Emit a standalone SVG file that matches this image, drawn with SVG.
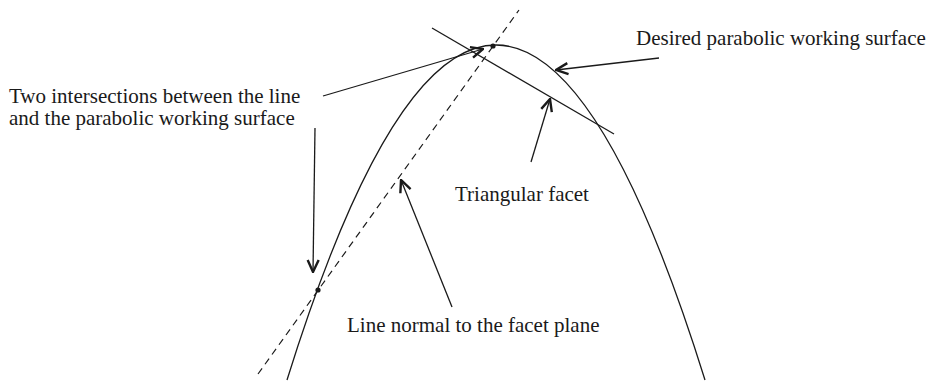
<svg xmlns="http://www.w3.org/2000/svg" width="932" height="381" viewBox="0 0 932 381">
<defs>
<style>
.ln{fill:none;stroke:#1a1a1a;stroke-width:1.3}
.dash{fill:none;stroke:#1a1a1a;stroke-width:1.2;stroke-dasharray:7,5}
.lbl{font-family:"Liberation Serif","Times New Roman",serif;font-size:21px;fill:#1a1a1a}
</style>
<marker id="ah" viewBox="0 0 14 14" refX="13" refY="7" markerWidth="14" markerHeight="14" markerUnits="userSpaceOnUse" orient="auto">
<polyline points="1,1.5 13,7 1,12.5" fill="none" stroke="#1a1a1a" stroke-width="2.4"/>
</marker>
</defs>
<rect width="932" height="381" fill="#fff"/>
<g id="surface">
<path class="ln" d="M287,380 Q496,-290 705,380"/>
</g>
<g id="facet">
<line class="ln" x1="432" y1="28" x2="614" y2="134"/>
</g>
<g id="normal-line">
<line class="dash" x1="258" y1="374" x2="519" y2="10"/>
</g>
<g id="points">
<circle cx="493" cy="46" r="2.6" fill="#1a1a1a"/>
<circle cx="318" cy="290" r="2.6" fill="#1a1a1a"/>
</g>
<g id="label-desired">
<text class="lbl" x="636" y="45">Desired parabolic working surface</text>
</g>
<g id="label-intersections">
<text class="lbl" x="9" y="103">Two intersections between the line</text>
<text class="lbl" x="9" y="125">and the parabolic working surface</text>
</g>
<g id="label-facet">
<text class="lbl" x="455" y="201">Triangular facet</text>
</g>
<g id="label-normal">
<text class="lbl" x="347" y="332">Line normal to the facet plane</text>
</g>
<g id="connectors">
<line class="ln" x1="659" y1="58" x2="556" y2="70" marker-end="url(#ah)"/>
<line class="ln" x1="531" y1="162" x2="550" y2="99" marker-end="url(#ah)"/>
<line class="ln" x1="323" y1="96" x2="483" y2="49" marker-end="url(#ah)"/>
<line class="ln" x1="315" y1="128" x2="313" y2="272" marker-end="url(#ah)"/>
<line class="ln" x1="452" y1="307" x2="401" y2="180" marker-end="url(#ah)"/>
</g>
</svg>
